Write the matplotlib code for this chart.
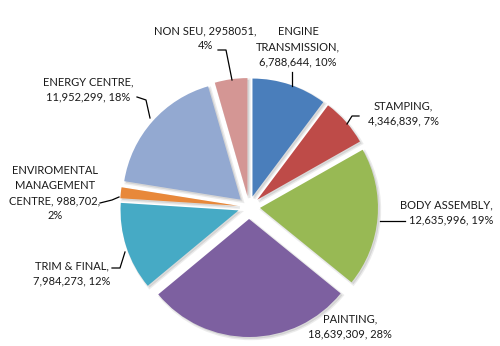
import matplotlib.pyplot as plt

labels = ['ENGINE\nTRANSMISSION,\n6,788,644, 10%', 'STAMPING,\n4,346,839, 7%',
          'BODY ASSEMBLY,\n12,635,996, 19%', 'PAINTING,\n18,639,309, 28%',
          'TRIM & FINAL,\n7,984,273, 12%', 'ENVIROMENTAL\nMANAGEMENT\nCENTRE, 988,702,\n2%',
          'ENERGY CENTRE,\n11,952,299, 18%', 'NON SEU, 2958051,\n4%']
values = [6788644, 4346839, 12635996, 18639309, 7984273, 988702, 11952299, 2958051]
colors = ['#4A7EBB', '#BE4B48', '#98B954', '#7D60A0', '#46AAC5', '#E8883A', '#93A9D1', '#D49694']

R = 118
# explode is in data units (pixels here)
explode = [11, 11, 11, 12, 11, 11, 11, 11]

# label text positions (pixel coords, origin bottom-left), alignment, leader line points
label_pos = [(298, 299, 'center'), (403, 233, 'center'), (493, 134, 'right'),
             (350, 20, 'center'), (72, 73, 'center'), (55, 153, 'center'),
             (88, 257, 'center'), (205, 308, 'center')]
leaders = [[(292, 274), (292, 260)],
           [(359, 230), (352, 230), (347, 222)],
           [(405, 125), (380, 125)],
           None,
           [(112, 78), (120, 78), (125, 94)],
           [(100, 143), (112, 146), (119, 149)],
           [(137, 249), (146, 246), (150, 228)],
           [(218, 296), (226, 296), (232, 266)]]

fig = plt.figure(figsize=(5, 3.46), dpi=100)
ax = fig.add_axes([0, 0, 1, 1])
ax.pie(values, radius=R, center=(249, 139), startangle=90, counterclock=False,
       explode=explode, colors=colors, frame=True,
       shadow={'ox': 1.3, 'oy': -1.3, 'facecolor': '#9a9a9a', 'edgecolor': '#c8c8c8',
               'linewidth': 2, 'alpha': 0.35})
ax.set_xlim(0, 500)
ax.set_ylim(0, 346)
ax.set_aspect('equal')
ax.axis('off')

for lab, (x, y, ha), ld in zip(labels, label_pos, leaders):
    ax.text(x, y, lab, ha=ha, va='center', fontsize=8, family='Lato',
            color='#1a1a1a', linespacing=1.45)
    if ld:
        xs, ys = zip(*ld)
        ax.plot(xs, ys, color='black', lw=0.9)

fig.savefig('out.png', dpi=100)
